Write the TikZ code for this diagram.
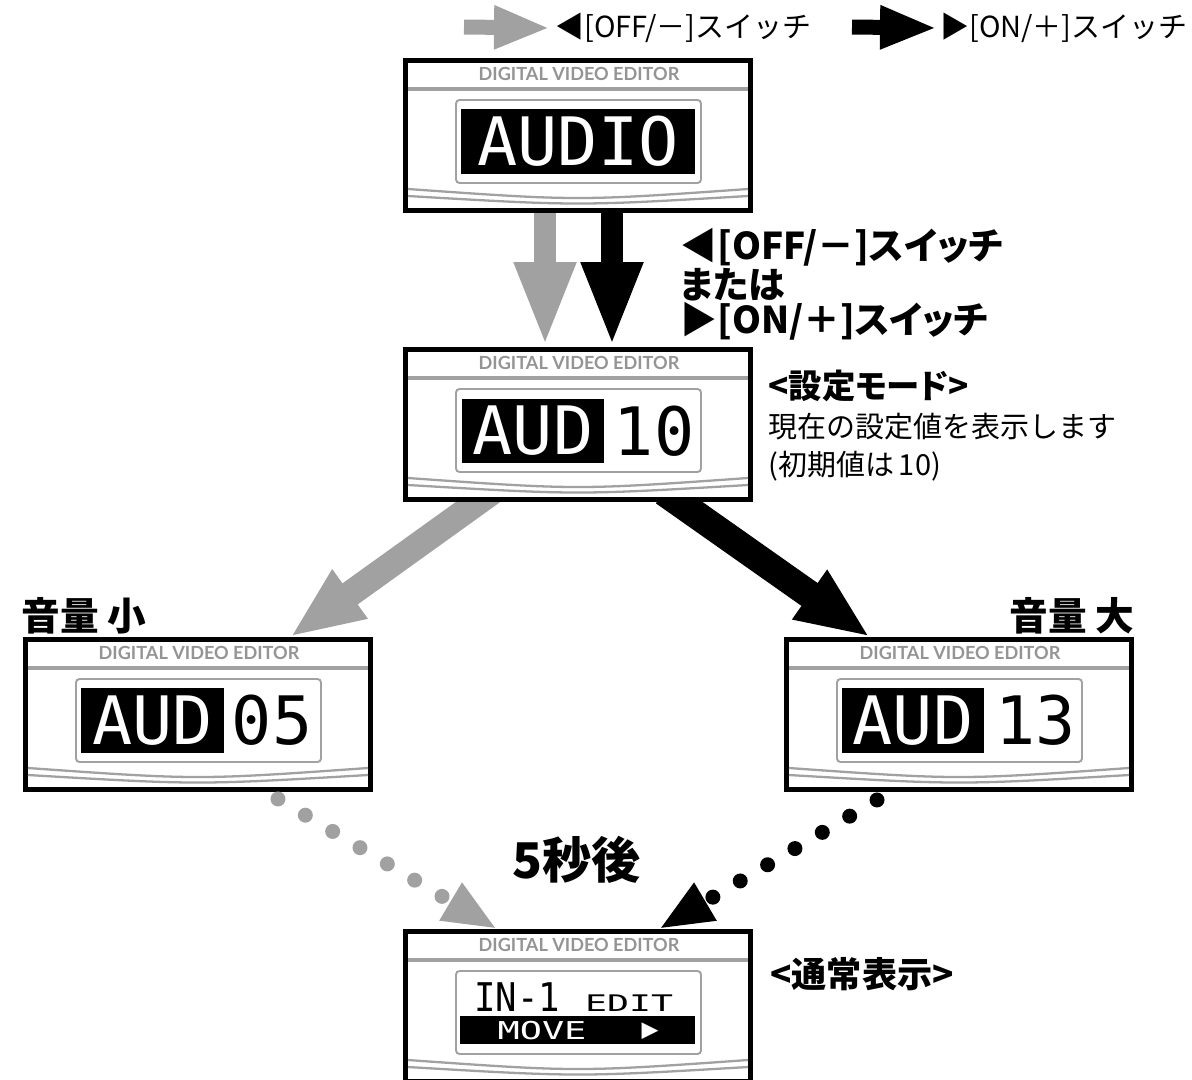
\documentclass[tikz,border=0pt]{standalone}
\usepackage{fontspec}
\usepackage{graphicx}
\usetikzlibrary{arrows.meta,backgrounds}

\newfontfamily\jpw{Noto Sans CJK JP}
\newfontfamily\jpp[RawFeature=+palt]{Noto Sans CJK JP}
\newfontfamily\lcd{DejaVu Sans Mono}
\newfontfamily\hdr{Lato}
\definecolor{lcdgray}{RGB}{160,161,160}
\definecolor{hdrgray}{RGB}{148,148,148}

\begin{document}
\begin{tikzpicture}[x=0.02cm,y=0.02cm]
    \tikzstyle{every node}+=[inner sep=0pt]
    \tikzstyle{lcdframe}=[draw, fill=white, line width=2.8pt, minimum width=6.9cm, minimum height=3cm]
    \tikzstyle{lcdscreen}=[draw=lcdgray, line width=1.1pt, rounded corners=2pt]
    \tikzstyle{lcdtrim}=[lcdgray, line width=1.3pt]
    \tikzstyle{lcdon}=[fill=black, text=white, font=\lcd\fontsize{38}{38}\selectfont]
    \tikzstyle{lcdoff}=[text=black, font=\lcd\fontsize{38}{38}\selectfont]
    \tikzstyle{offarrow}=[lcdgray]
    \tikzstyle{onarrow}=[black]
    \tikzstyle{jlabel}=[font=\jpw\bfseries\fontsize{20}{20}\selectfont]
    \useasboundingbox (0,0) rectangle (1192,-1079);

    % legend
    \node [anchor=west, font=\jpw\fontsize{16.5}{16.5}\selectfont] (legoff) at (555,-28) {◀[OFF/－]スイッチ};
    \node [anchor=west, font=\jpw\fontsize{16.5}{16.5}\selectfont] (legon) at (940,-28) {▶[ON/＋]スイッチ};
    \coordinate (offtail) at (464,-27);
    \coordinate (ontail) at (852,-27);
    \draw [offarrow, line width=0.3cm, -{Triangle[length=1.12cm,width=0.8cm]}] (offtail) -- ([xshift=-0.1cm]legoff.west);
    \draw [onarrow, line width=0.3cm, -{Triangle[length=1.14cm,width=0.8cm]}] (ontail) -- ([xshift=-0.06cm]legon.west);

    % display boxes
    \foreach \name/\bx/\by in {audio/403/58, aud10/403/347, aud05/23/637, aud13/784/637, normal/403/929} {
        \node [lcdframe] (\name) at (\bx+175,-\by-77.5) {};
        \node [hdrgray, font=\hdr\bfseries\fontsize{10.3}{10.3}\selectfont] (\name-head) at (\bx+176,-\by-16) {DIGITAL VIDEO EDITOR};
        \draw [lcdtrim, line width=2.2pt] (\bx+5,-\by-31) -- (\bx+345,-\by-31);
        \draw [lcdscreen] (\bx+53,-\by-42) rectangle (\bx+298,-\by-125);
        \draw [lcdtrim] (\bx+5,-\by-131) .. controls (\bx+175,-\by-143) .. (\bx+345,-\by-131);
        \draw [lcdtrim] (\bx+5,-\by-138) .. controls (\bx+175,-\by-148) .. (\bx+345,-\by-138);
    }

    % screens
    \node [lcdon, minimum width=4.68cm, minimum height=1.3cm] (audio-lcd) at (578,-141.5) {AUDIO};
    \node [lcdon, minimum width=2.84cm, minimum height=1.28cm] (aud10-lcd) at (533,-431) {AUD};
    \node [lcdoff] (aud10-val) at (654,-431) {10};
    \node [lcdon, minimum width=2.86cm, minimum height=1.3cm] (aud05-lcd) at (152.5,-720.5) {AUD};
    \node [lcdoff] (aud05-val) at (272,-720.5) {05};
    \node [lcdon, minimum width=2.84cm, minimum height=1.3cm] (aud13-lcd) at (913,-720.5) {AUD};
    \node [lcdoff] (aud13-val) at (1035.5,-720.5) {13};
    \node [font=\lcd\fontsize{22.5}{22.5}\selectfont] (normal-in) at (517,-997) {\scalebox{0.9}[1]{IN-1}};
    \node [font=\lcd\fontsize{13}{13}\selectfont] (normal-edit) at (629,-1003.5) {\scalebox{1.6}[1]{EDIT}};
    \node [fill=black, minimum width=4.7cm, minimum height=0.56cm] (normal-bar) at (577.5,-1030) {};
    \node [text=white, font=\lcd\fontsize{14}{14}\selectfont] (normal-move) at (542,-1031) {\scalebox{1.5}[1]{MOVE}};
    \node [text=white, font=\lcd\fontsize{16}{16}\selectfont] (normal-go) at (650,-1031) {▶};

    % switch arrows
    \draw [offarrow, line width=0.44cm, -{Triangle[length=1.7cm,width=1.12cm]}] ([xshift=-0.66cm]audio.south) -- ([xshift=-0.66cm]aud10.north);
    \draw [onarrow, line width=0.44cm, -{Triangle[length=1.7cm,width=1.12cm]}] ([xshift=0.68cm]audio.south) -- ([xshift=0.68cm]aud10.north);
    \begin{scope}[on background layer]
        \draw [offarrow, line width=0.52cm, -{Triangle[length=1.48cm,width=1.1cm]}] ([xshift=-1.72cm,yshift=0.2cm]aud10.south) -- ([xshift=1.84cm]aud05.north);
        \draw [onarrow, line width=0.56cm, -{Triangle[length=1.48cm,width=1.1cm]}] ([xshift=1.72cm,yshift=0.2cm]aud10.south) -- ([xshift=-1.78cm]aud13.north);
    \end{scope}

    % timeout back to normal
    \draw [offarrow, line width=0.3cm, line cap=round, dash pattern=on 0pt off 0.636cm, -{Triangle[length=1.08cm,width=0.8cm]}] ([xshift=1.6cm,yshift=-0.14cm]aud05.south) -- ([xshift=-1.62cm]normal.north);
    \draw [onarrow, line width=0.3cm, line cap=round, dash pattern=on 0pt off 0.636cm, -{Triangle[length=1.08cm,width=0.8cm]}] ([xshift=-1.64cm,yshift=-0.16cm]aud13.south) -- ([xshift=1.62cm]normal.north);

    % labels
    \node [anchor=north west, align=left, font=\jpp\bfseries\fontsize{21}{19.2}\selectfont] (swlabel) at (680,-228) {◀[OFF/－]スイッチ\\または\\▶[ON/＋]スイッチ};
    \node [anchor=north west, align=left, font=\jpw\fontsize{16.5}{21.8}\selectfont] (modelabel) at (768,-370) {{\jpp\bfseries\fontsize{19}{21.8}\selectfont <設定モード>}\\現在の設定値を表示します\\(初期値は\,10)};
    \node [anchor=west, font=\jpw\bfseries\fontsize{22}{22}\selectfont] (lowlabel) at (21,-616) {音量 小};
    \node [anchor=east, font=\jpw\bfseries\fontsize{22}{22}\selectfont] (highlabel) at (1135,-616) {音量 大};
    \node [font=\jpw\bfseries\fontsize{28}{28}\selectfont] (waitlabel) at (577,-860) {5秒後};
    \node [anchor=west, jlabel] (normallabel) at (770,-974) {<通常表示>};
\end{tikzpicture}
\end{document}
